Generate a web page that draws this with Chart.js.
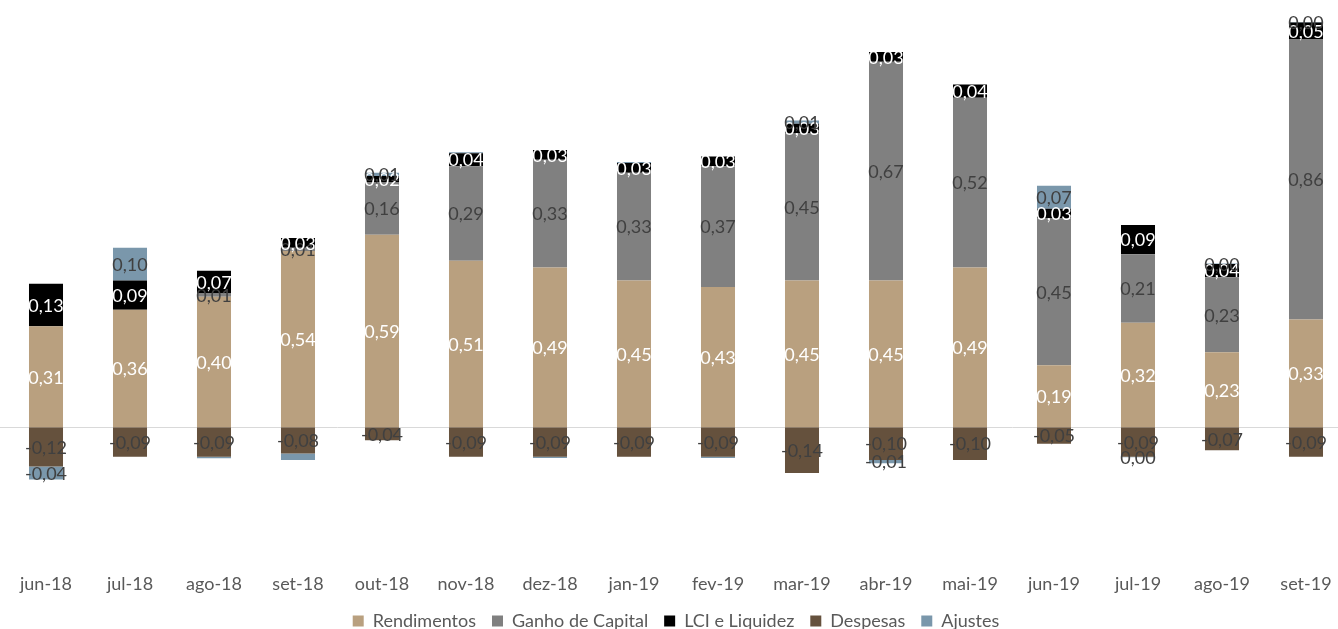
<!DOCTYPE html>
<html lang="pt">
<head>
<meta charset="utf-8">
<title>Rentabilidade mensal</title>
<script src="https://cdn.jsdelivr.net/npm/chart.js"></script>
<style>
  html, body { margin: 0; padding: 0; background: #fff; overflow: hidden; }
  #wrap { width: 1350px; height: 640px; }
</style>
</head>
<body>
<div id="wrap"><canvas id="grafico"></canvas></div>
<script>
// ---------------- dados ----------------
const meses = ['jun-18', 'jul-18', 'ago-18', 'set-18', 'out-18', 'nov-18', 'dez-18', 'jan-19',
  'fev-19', 'mar-19', 'abr-19', 'mai-19', 'jun-19', 'jul-19', 'ago-19', 'set-19'];
const rendimentos = [0.31, 0.36, 0.40, 0.54, 0.59, 0.51, 0.49, 0.45, 0.43, 0.45, 0.45, 0.49, 0.19, 0.32, 0.23, 0.33];
const ganhoCapital = [null, null, 0.01, 0.01, 0.16, 0.29, 0.33, 0.33, 0.37, 0.45, 0.67, 0.52, 0.45, 0.21, 0.23, 0.86];
const lciLiquidez = [0.13, 0.09, 0.07, 0.03, 0.02, 0.04, 0.03, 0.03, 0.03, 0.03, 0.03, 0.04, 0.03, 0.09, 0.04, 0.05];
const despesas = [-0.12, -0.09, -0.09, -0.08, -0.04, -0.09, -0.09, -0.09, -0.09, -0.14, -0.10, -0.10, -0.05, -0.09, -0.07, -0.09];
const ajustes = [-0.04, 0.10, -0.005, -0.02, 0.01, 0.003, -0.004, 0.003, -0.004, 0.01, -0.01, null, 0.07, -0.002, 0.002, 0.002];
// meses em que o rótulo de Ajustes não aparece
const ajustesSemRotulo = ['ago-18', 'set-18', 'nov-18', 'dez-18', 'jan-19', 'fev-19'];
// -----------------------------------------------------------

const FONTE = 'Lato, "Open Sans", sans-serif';

const fmt = (v) => {
  let s = v.toFixed(2);
  if (s === '-0.00') s = '0.00';
  return s.replace('.', ',');
};

// rótulos centrados em cada segmento
const rotulos = {
  id: 'rotulos',
  afterDatasetsDraw(chart) {
    const ctx = chart.ctx;
    ctx.save();
    ctx.font = '18px ' + FONTE;
    ctx.textAlign = 'center';
    ctx.textBaseline = 'middle';
    chart.data.datasets.forEach((ds, i) => {
      const meta = chart.getDatasetMeta(i);
      if (meta.hidden) return;
      meta.data.forEach((bar, j) => {
        const v = ds.data[j];
        if (v == null) return;
        if (ds.semRotulo && ds.semRotulo.includes(meses[j])) return;
        ctx.fillStyle = ds.corRotulo;
        ctx.fillText(fmt(v), bar.x, (bar.y + bar.base) / 2 + 1);
      });
    });
    ctx.restore();
  }
};

// linha do zero
const linhaZero = {
  id: 'linhaZero',
  beforeDatasetsDraw(chart) {
    const y = chart.scales.y.getPixelForValue(0);
    const ctx = chart.ctx;
    ctx.save();
    ctx.strokeStyle = '#d9d9d9';
    ctx.lineWidth = 1;
    ctx.beginPath();
    ctx.moveTo(0, Math.round(y) + 0.5);
    ctx.lineTo(chart.width, Math.round(y) + 0.5);
    ctx.stroke();
    ctx.restore();
  }
};

new Chart(document.getElementById('grafico'), {
  type: 'bar',
  data: {
    labels: meses,
    datasets: [
      { label: 'Rendimentos', data: rendimentos, backgroundColor: '#b9a07f', corRotulo: '#ffffff' },
      { label: 'Ganho de Capital', data: ganhoCapital, backgroundColor: '#808080', corRotulo: '#404040' },
      { label: 'LCI e Liquidez', data: lciLiquidez, backgroundColor: '#000000', corRotulo: '#ffffff' },
      { label: 'Despesas', data: despesas, backgroundColor: '#65513d', corRotulo: '#404040' },
      { label: 'Ajustes', data: ajustes, backgroundColor: '#7a97ab', corRotulo: '#404040', semRotulo: ajustesSemRotulo }
    ]
  },
  options: {
    responsive: true,
    maintainAspectRatio: false,
    animation: false,
    layout: { padding: { left: 4, right: 2, top: 3, bottom: 0 } },
    datasets: { bar: { barPercentage: 0.405, categoryPercentage: 1, borderWidth: 0 } },
    scales: {
      x: {
        stacked: true,
        grid: { display: false },
        border: { display: false },
        ticks: { color: '#595959', font: { family: FONTE, size: 18 }, padding: 1, maxRotation: 0, autoSkip: false }
      },
      y: {
        stacked: true,
        display: false,
        min: -0.42,
        max: 1.3
      }
    },
    plugins: {
      legend: {
        position: 'bottom',
        labels: {
          color: '#595959',
          font: { family: FONTE, size: 18 },
          boxWidth: 11,
          boxHeight: 11,
          padding: 16
        }
      },
      tooltip: { enabled: false }
    }
  },
  plugins: [linhaZero, rotulos]
});
</script>
</body>
</html>
